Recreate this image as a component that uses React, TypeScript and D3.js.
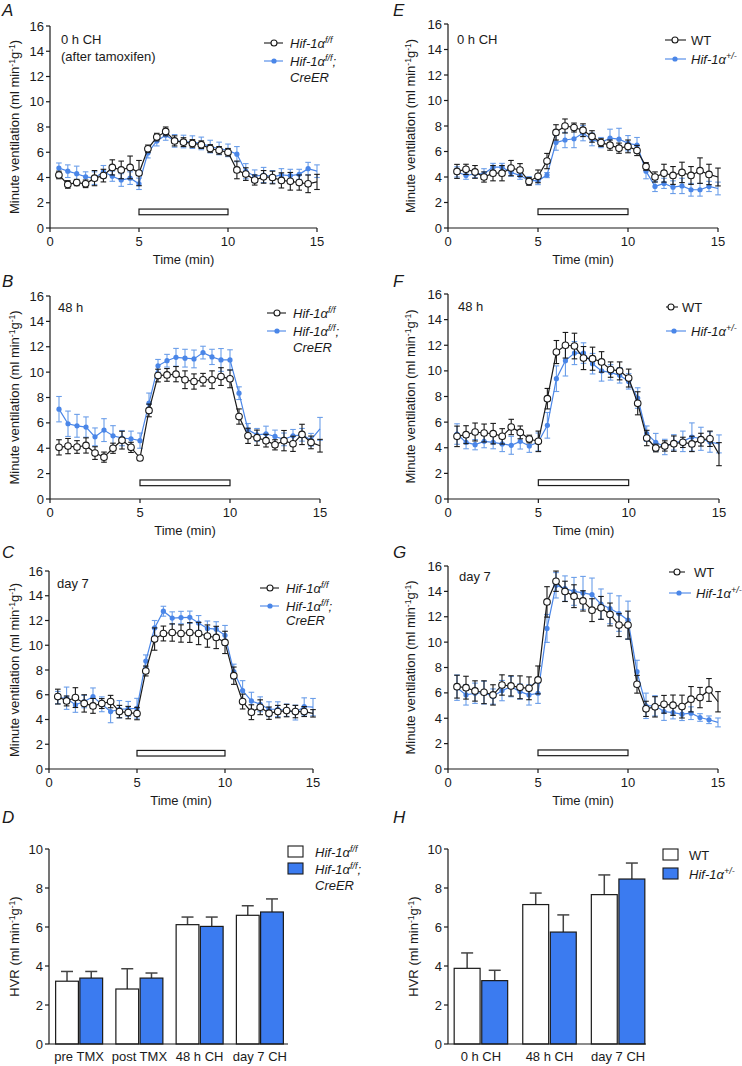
import React from "react";
import * as d3 from "d3";

// ---------- DATA ----------
const TIME = [0.5, 1, 1.5, 2, 2.5, 3, 3.5, 4, 4.5, 5, 5.5, 6, 6.5, 7, 7.5, 8, 8.5, 9, 9.5, 10, 10.5, 11, 11.5, 12, 12.5, 13, 13.5, 14, 14.5, 15];

// Panel A: 0 h CH (after tamoxifen)
const A_ff_mean = [4.2, 3.45, 3.6, 3.5, 3.95, 4.15, 4.8, 4.6, 4.8, 4.35, 6.27, 7.2, 7.65, 6.9, 6.8, 6.7, 6.6, 6.3, 6.15, 6.0, 4.6, 4.27, 3.8, 4.05, 4.0, 3.77, 3.7, 3.6, 3.5, 3.65];
const A_ff_err = [0.3, 0.3, 0.25, 0.3, 0.6, 0.5, 0.6, 0.7, 0.9, 1.0, 0.3, 0.3, 0.35, 0.4, 0.35, 0.3, 0.3, 0.3, 0.3, 0.3, 0.7, 0.5, 0.4, 0.5, 0.5, 0.6, 0.7, 0.6, 0.7, 0.6];
const A_cre_mean = [4.75, 4.5, 4.3, 4.05, 3.95, 4.45, 4.1, 3.8, 3.95, 3.5, 5.95, 6.9, 7.35, 6.9, 6.85, 6.8, 6.7, 6.45, 6.3, 6.15, 5.85, 4.5, 4.1, 4.2, 4.05, 4.2, 4.15, 4.25, 4.7, 4.5];
const A_cre_err = [0.4, 0.5, 0.6, 0.4, 0.5, 0.5, 0.4, 0.5, 0.5, 0.45, 0.4, 0.4, 0.4, 0.5, 0.5, 0.5, 0.5, 0.5, 0.5, 0.5, 0.6, 0.6, 0.5, 0.6, 0.5, 0.5, 0.5, 0.4, 0.5, 0.5];

// Panel B: 48 h
const B_ff_mean = [4.07, 4.17, 4.1, 4.22, 3.62, 3.3, 4.0, 4.64, 4.07, 3.23, 6.98, 9.73, 9.78, 9.84, 9.4, 9.26, 9.4, 9.4, 9.65, 9.47, 6.5, 4.98, 4.83, 4.6, 4.27, 4.6, 4.35, 5.09, 4.46, 4.2];
const B_ff_err = [0.6, 0.6, 0.5, 0.6, 0.5, 0.4, 0.4, 0.7, 0.4, 0.2, 0.5, 0.5, 0.5, 0.6, 0.7, 0.6, 0.5, 0.7, 0.7, 0.7, 0.6, 0.6, 0.6, 0.5, 0.4, 0.8, 0.6, 0.8, 0.5, 0.5];
const B_cre_mean = [7.08, 5.93, 5.77, 5.67, 4.9, 5.43, 4.98, 4.8, 4.75, 4.6, 7.55, 10.5, 10.9, 11.17, 11.1, 11.04, 11.54, 11.2, 10.96, 10.96, 8.34, 5.45, 5.06, 5.14, 4.93, 4.7, 4.98, 5.06, 4.67, 5.53];
const B_cre_err = [1.0, 1.0, 0.9, 0.8, 0.7, 0.9, 0.8, 0.6, 0.6, 0.6, 0.8, 0.5, 0.5, 0.7, 0.7, 0.7, 0.5, 0.6, 0.9, 0.8, 0.5, 0.5, 0.5, 0.6, 0.5, 0.5, 0.5, 0.5, 0.5, 0.9];

// Panel C: day 7
const C_ff_mean = [5.85, 5.5, 5.77, 5.3, 5.1, 5.29, 5.45, 4.64, 4.56, 4.48, 7.92, 10.5, 10.95, 11.03, 10.95, 11.03, 10.95, 10.74, 10.63, 10.23, 7.54, 5.45, 4.59, 4.99, 4.51, 4.64, 4.72, 4.64, 4.64, 4.5];
const C_ff_err = [0.6, 0.4, 0.8, 0.7, 0.6, 0.4, 0.5, 0.5, 0.5, 0.5, 0.4, 0.9, 0.6, 0.7, 0.7, 0.8, 0.9, 0.9, 0.9, 0.9, 0.7, 0.6, 0.6, 0.6, 0.5, 0.5, 0.5, 0.5, 0.4, 0.3];
const C_cre_mean = [5.77, 5.72, 5.18, 5.45, 5.85, 5.23, 4.64, 4.83, 4.86, 4.91, 8.72, 11.4, 12.75, 12.2, 12.24, 12.26, 11.8, 11.36, 11.3, 10.8, 7.87, 6.34, 5.5, 5.23, 4.83, 4.83, 4.75, 4.56, 5.05, 5.0];
const C_cre_err = [0.5, 0.9, 0.6, 0.5, 0.7, 0.6, 0.9, 0.7, 0.6, 0.8, 0.5, 0.6, 0.4, 0.5, 0.5, 0.5, 0.6, 0.6, 0.6, 0.8, 0.6, 0.8, 0.7, 0.6, 0.6, 0.6, 0.5, 0.6, 0.7, 0.7];

// Panel E: 0 h CH
const E_wt_mean = [4.44, 4.6, 4.4, 4.0, 4.3, 4.3, 4.7, 4.55, 3.65, 4.05, 5.25, 7.5, 8.0, 7.88, 7.67, 7.18, 6.7, 6.5, 6.26, 6.4, 6.08, 4.83, 4.0, 4.3, 4.12, 4.36, 4.12, 4.5, 4.2, 4.0];
const E_wt_err = [0.55, 0.4, 0.5, 0.4, 0.6, 0.6, 0.6, 0.5, 0.3, 0.5, 0.6, 0.6, 0.55, 0.35, 0.5, 0.45, 0.3, 0.4, 0.4, 0.5, 0.4, 0.3, 0.4, 0.7, 0.7, 0.8, 0.7, 1.0, 0.8, 0.7];
const E_het_mean = [4.4, 4.12, 4.25, 4.25, 4.77, 4.77, 4.36, 4.12, 3.73, 3.7, 4.15, 6.7, 6.9, 7.0, 7.44, 6.95, 6.7, 7.05, 6.97, 6.65, 6.5, 4.46, 3.26, 3.5, 3.2, 3.3, 3.0, 3.0, 3.26, 3.1];
const E_het_err = [0.4, 0.3, 0.3, 0.4, 0.3, 0.3, 0.3, 0.3, 0.3, 0.3, 0.2, 0.6, 0.6, 0.7, 0.6, 0.5, 0.4, 0.7, 0.85, 0.6, 0.6, 0.6, 0.4, 0.4, 0.5, 0.6, 0.5, 0.5, 0.4, 0.5];

// Panel F: 48 h
const F_wt_mean = [4.89, 5.02, 5.23, 5.15, 5.1, 4.89, 5.62, 5.2, 4.68, 4.5, 7.83, 11.47, 12.0, 11.94, 11.0, 10.95, 10.7, 10.1, 10.0, 9.44, 7.47, 4.76, 3.98, 4.14, 4.32, 4.42, 4.3, 4.63, 4.7, 3.5];
const F_wt_err = [0.8, 0.7, 0.7, 0.7, 0.8, 0.6, 0.6, 0.5, 0.3, 0.8, 0.8, 0.9, 1.0, 1.0, 0.9, 0.9, 0.8, 0.6, 0.7, 0.7, 0.9, 0.6, 0.3, 0.4, 0.6, 0.4, 0.6, 0.5, 0.6, 0.9];
const F_het_mean = [5.07, 4.42, 4.24, 4.5, 4.42, 4.3, 4.19, 4.5, 4.14, 4.45, 5.75, 9.39, 10.8, 11.39, 11.39, 10.56, 10.0, 9.88, 9.65, 9.18, 7.88, 5.1, 4.42, 4.06, 4.42, 4.5, 4.84, 4.7, 4.45, 4.3];
const F_het_err = [0.8, 0.5, 0.4, 0.5, 0.5, 0.6, 0.7, 0.6, 0.5, 0.7, 1.0, 1.0, 1.2, 0.9, 0.8, 0.8, 0.8, 0.6, 0.6, 0.6, 0.8, 0.6, 0.7, 0.6, 0.6, 0.8, 1.1, 0.9, 0.8, 0.7];

// Panel G: day 7
const G_wt_mean = [6.49, 6.41, 6.15, 6.05, 5.84, 6.62, 6.55, 6.44, 6.36, 7.02, 13.17, 14.8, 14.0, 13.62, 13.25, 12.52, 12.7, 12.18, 11.34, 11.34, 6.68, 4.74, 4.9, 5.1, 5.03, 4.92, 5.5, 5.63, 6.23, 5.3];
const G_wt_err = [0.9, 0.9, 0.8, 0.9, 0.8, 0.8, 0.8, 0.9, 0.9, 1.1, 1.2, 0.8, 0.8, 0.9, 0.8, 0.9, 0.9, 0.9, 0.9, 1.1, 0.7, 0.6, 0.8, 0.7, 0.8, 0.9, 1.0, 0.8, 0.9, 0.8];
const G_het_mean = [6.41, 5.84, 5.97, 6.02, 5.71, 6.18, 6.49, 6.1, 5.84, 5.97, 11.08, 14.48, 14.22, 14.0, 13.88, 13.75, 12.99, 12.65, 12.25, 11.73, 7.67, 4.98, 4.98, 4.53, 4.45, 4.32, 4.4, 4.06, 3.88, 3.67];
const G_het_err = [1.0, 0.8, 0.8, 0.9, 0.6, 0.8, 0.8, 0.6, 0.8, 0.8, 1.1, 1.0, 1.0, 1.1, 1.3, 1.3, 1.2, 1.2, 1.4, 1.5, 0.9, 1.0, 0.8, 0.7, 0.5, 0.5, 0.5, 0.3, 0.3, 0.35];

// Bar panels
const D_cats = ["pre TMX", "post TMX", "48 h CH", "day 7 CH"];
const D_ff = [3.22, 2.82, 6.12, 6.6];
const D_ff_err = [0.5, 1.04, 0.39, 0.49];
const D_cre = [3.38, 3.38, 6.03, 6.77];
const D_cre_err = [0.34, 0.26, 0.48, 0.67];

const H_cats = ["0 h CH", "48 h CH", "day 7 CH"];
const H_wt = [3.88, 7.15, 7.66];
const H_wt_err = [0.79, 0.59, 1.01];
const H_het = [3.25, 5.74, 8.46];
const H_het_err = [0.53, 0.88, 0.82];

const LINE_TICKS_Y = [0, 2, 4, 6, 8, 10, 12, 14, 16];
const LINE_TICKS_X = [0, 5, 10, 15];
const BAR_TICKS_Y = [0, 2, 4, 6, 8, 10];

// ---------- STYLE ----------
const FONT = "'Liberation Sans', Arial, Helvetica, sans-serif";
const BLACK = "#1a1a1a";
const BLUE_LINE = "#4a86e8";
const BLUE_ERR = "#6b9ee9";
const BLUE_BAR = "#3b7bf0";
const FS = 13;

type Leg = {
  kind: "ff" | "wt";
  rows: { lx0: number; lx1: number; mx: number; y: number; tx: number }[];
  creY?: number;
};

function HifText({ sup, suffix }: { sup: string; suffix?: string }) {
  return (
    <>
      <tspan fontStyle="italic">Hif-1α</tspan>
      <tspan dy={-5} fontSize={9} fontStyle="italic">{sup}</tspan>
      {suffix ? <tspan dy={5} fontStyle="italic">{suffix}</tspan> : null}
    </>
  );
}

function YLabel({ x, y, text }: { x: number; y: number; text: string }) {
  return (
    <text transform={`translate(${x},${y}) rotate(-90)`} textAnchor="middle" fontSize={FS} fill={BLACK}>
      {text} (ml min
      <tspan dy={-4} fontSize={8.5}>-1</tspan>
      <tspan dy={4}>g</tspan>
      <tspan dy={-4} fontSize={8.5}>-1</tspan>
      <tspan dy={4}>)</tspan>
    </text>
  );
}

type LineProps = {
  x0: number; x1: number; yTop: number; yBot: number;
  letter: string; letterX: number; letterY: number;
  bm: number[]; be: number[]; cm: number[]; ce: number[];
  annot: string[]; annotX: number; annotY: number;
  legend: Leg; yLabelX: number;
};

function LinePanel(p: LineProps) {
  const x = d3.scaleLinear().domain([0, 15]).range([p.x0, p.x1]);
  const y = d3.scaleLinear().domain([0, 16]).range([p.yBot, p.yTop]);
  const line = d3.line<number>().x((_, i) => x(TIME[i])).y((v) => y(v));
  const cap = 2.8;

  const series = (mean: number[], err: number[], col: string, errCol: string, open: boolean) => (
    <g>
      {mean.map((m, i) => {
        const cx = x(TIME[i]);
        const yt = y(m + err[i]);
        const yb = y(m - err[i]);
        return (
          <g key={i} stroke={errCol} strokeWidth={1.1}>
            <line x1={cx} x2={cx} y1={yt} y2={yb} />
            <line x1={cx - cap} x2={cx + cap} y1={yt} y2={yt} />
            <line x1={cx - cap} x2={cx + cap} y1={yb} y2={yb} />
          </g>
        );
      })}
      <path d={line(mean) || ""} fill="none" stroke={col} strokeWidth={1.2} />
      {mean.slice(0, mean.length - 1).map((m, i) =>
        open ? (
          <circle key={i} cx={x(TIME[i])} cy={y(m)} r={3.3} fill="#fff" stroke={col} strokeWidth={1.1} />
        ) : (
          <circle key={i} cx={x(TIME[i])} cy={y(m)} r={2.6} fill={col} />
        )
      )}
    </g>
  );

  const lg = p.legend;
  return (
    <g fontFamily={FONT}>
      <text x={p.letterX} y={p.letterY} fontSize={17} fontStyle="italic" fill={BLACK}>{p.letter}</text>
      {/* axes */}
      <line x1={p.x0} x2={p.x0} y1={p.yTop} y2={p.yBot} stroke={BLACK} strokeWidth={1.2} />
      <line x1={p.x0} x2={p.x1} y1={p.yBot} y2={p.yBot} stroke={BLACK} strokeWidth={1.2} />
      {LINE_TICKS_Y.map((t) => (
        <g key={t}>
          <line x1={p.x0 - 4} x2={p.x0} y1={y(t)} y2={y(t)} stroke={BLACK} strokeWidth={1.2} />
          <text x={p.x0 - 6} y={y(t)} dy="0.35em" textAnchor="end" fontSize={FS} fill={BLACK}>{t}</text>
        </g>
      ))}
      {LINE_TICKS_X.map((t) => (
        <g key={t}>
          <line x1={x(t)} x2={x(t)} y1={p.yBot} y2={p.yBot + 4} stroke={BLACK} strokeWidth={1.2} />
          <text x={x(t)} y={p.yBot + 9} dy="0.71em" textAnchor="middle" fontSize={FS} fill={BLACK}>{t}</text>
        </g>
      ))}
      <text x={(p.x0 + p.x1) / 2} y={p.yBot + 36} textAnchor="middle" fontSize={FS} fill={BLACK}>Time (min)</text>
      <YLabel x={p.yLabelX} y={(p.yTop + p.yBot) / 2} text="Minute ventilation" />
      {/* hypoxia bar */}
      <rect x={x(5)} y={y(1.5)} width={x(10) - x(5)} height={y(1.05) - y(1.5)} fill="#fff" stroke={BLACK} strokeWidth={1.2} />
      {series(p.cm, p.ce, BLUE_LINE, BLUE_ERR, false)}
      {series(p.bm, p.be, BLACK, BLACK, true)}
      {/* annotation */}
      {p.annot.map((a, i) => (
        <text key={i} x={p.annotX} y={p.annotY + i * 17} fontSize={FS} fill={BLACK}>{a}</text>
      ))}
      {/* legend */}
      <g>
        <line x1={lg.rows[0].lx0} x2={lg.rows[0].lx1} y1={lg.rows[0].y} y2={lg.rows[0].y} stroke={BLACK} strokeWidth={1.1} />
        <circle cx={lg.rows[0].mx} cy={lg.rows[0].y} r={3} fill="#fff" stroke={BLACK} strokeWidth={1.1} />
        <text x={lg.rows[0].tx} y={lg.rows[0].y + 4.5} fontSize={FS} fill={BLACK}>
          {lg.kind === "ff" ? <HifText sup="f/f" /> : "WT"}
        </text>
        <line x1={lg.rows[1].lx0} x2={lg.rows[1].lx1} y1={lg.rows[1].y} y2={lg.rows[1].y} stroke={BLUE_LINE} strokeWidth={1.1} />
        <circle cx={lg.rows[1].mx} cy={lg.rows[1].y} r={2.6} fill={BLUE_LINE} />
        <text x={lg.rows[1].tx} y={lg.rows[1].y + 4.5} fontSize={FS} fill={BLACK}>
          {lg.kind === "ff" ? <HifText sup="f/f" suffix=";" /> : <HifText sup="+/-" />}
        </text>
        {lg.creY !== undefined ? (
          <text x={lg.rows[1].tx} y={lg.creY} fontSize={FS} fontStyle="italic" fill={BLACK}>CreER</text>
        ) : null}
      </g>
    </g>
  );
}

type BarProps = {
  x0: number; x1: number; yTop: number; yBot: number; axisEnd: number;
  letter: string; letterX: number; letterY: number;
  cats: string[]; w: number[]; we: number[]; b: number[]; be: number[];
  pin: number; pout: number;
  yLabelX: number;
  kind: "ff" | "wt";
  boxX: number; boxW: number; boxH: number; boxY: number[]; textX: number; textY: number[]; creY?: number;
};

function BarPanel(p: BarProps) {
  const x = d3.scaleBand<string>().domain(p.cats).range([p.x0, p.x1]).paddingInner(p.pin).paddingOuter(p.pout);
  const sub = d3.scaleBand<string>().domain(["w", "b"]).range([0, x.bandwidth()]).paddingInner(0.06);
  const y = d3.scaleLinear().domain([0, 10]).range([p.yBot, p.yTop]);
  const errBar = (cx: number, v: number, e: number, k: string) => (
    <g key={k} stroke="#444" strokeWidth={1.5}>
      <line x1={cx} x2={cx} y1={y(v)} y2={y(v + e)} />
      <line x1={cx - 6} x2={cx + 6} y1={y(v + e)} y2={y(v + e)} />
    </g>
  );
  return (
    <g fontFamily={FONT}>
      <text x={p.letterX} y={p.letterY} fontSize={17} fontStyle="italic" fill={BLACK}>{p.letter}</text>
      {p.cats.map((c, i) => {
        const bx = x(c)!;
        const xw = bx + sub("w")!;
        const xb = bx + sub("b")!;
        const bw = sub.bandwidth();
        return (
          <g key={c}>
            {errBar(xw + bw / 2, p.w[i], p.we[i], "ew")}
            {errBar(xb + bw / 2, p.b[i], p.be[i], "eb")}
            <rect x={xw} y={y(p.w[i])} width={bw} height={p.yBot - y(p.w[i])} fill="#fff" stroke={BLACK} strokeWidth={1.2} />
            <rect x={xb} y={y(p.b[i])} width={bw} height={p.yBot - y(p.b[i])} fill={BLUE_BAR} stroke={BLACK} strokeWidth={1.2} />
            <text x={bx + x.bandwidth() / 2} y={p.yBot + 17} textAnchor="middle" fontSize={FS} fill={BLACK}>{c}</text>
          </g>
        );
      })}
      <line x1={p.x0} x2={p.x0} y1={p.yTop} y2={p.yBot} stroke={BLACK} strokeWidth={1.2} />
      <line x1={p.x0} x2={p.axisEnd} y1={p.yBot} y2={p.yBot} stroke={BLACK} strokeWidth={1.2} />
      {BAR_TICKS_Y.map((t) => (
        <g key={t}>
          <line x1={p.x0 - 4} x2={p.x0} y1={y(t)} y2={y(t)} stroke={BLACK} strokeWidth={1.2} />
          <text x={p.x0 - 6} y={y(t)} dy="0.35em" textAnchor="end" fontSize={FS} fill={BLACK}>{t}</text>
        </g>
      ))}
      <YLabel x={p.yLabelX} y={(p.yTop + p.yBot) / 2} text="HVR" />
      {/* legend */}
      <rect x={p.boxX} y={p.boxY[0]} width={p.boxW} height={p.boxH} fill="#fff" stroke={BLACK} strokeWidth={1.1} />
      <rect x={p.boxX} y={p.boxY[1]} width={p.boxW} height={p.boxH} fill={BLUE_BAR} stroke={BLACK} strokeWidth={1.1} />
      <text x={p.textX} y={p.textY[0]} fontSize={FS} fill={BLACK}>
        {p.kind === "ff" ? <HifText sup="f/f" /> : "WT"}
      </text>
      <text x={p.textX} y={p.textY[1]} fontSize={FS} fill={BLACK}>
        {p.kind === "ff" ? <HifText sup="f/f" suffix=";" /> : <HifText sup="+/-" />}
      </text>
      {p.creY !== undefined ? (
        <text x={p.textX} y={p.creY} fontSize={FS} fontStyle="italic" fill={BLACK}>CreER</text>
      ) : null}
    </g>
  );
}

const ffLeg = (yTop: number, xEnd: number, creOff: number): Leg => ({
  kind: "ff",
  rows: [
    { lx0: xEnd - 53, lx1: xEnd - 34, mx: xEnd - 43, y: yTop + 17 },
    { lx0: xEnd - 53, lx1: xEnd - 34, mx: xEnd - 43, y: yTop + 35 },
  ].map((r) => ({ ...r, tx: xEnd - 27 })),
  creY: yTop + creOff,
});

export default function App() {
  return (
    <svg width={742} height={1066} style={{ position: "absolute", left: 0, top: 0, background: "#fff" }}>
      <rect x={0} y={0} width={742} height={1066} fill="#fff" />
      <LinePanel x0={50} x1={317} yTop={26} yBot={228} letter="A" letterX={2} letterY={16}
        bm={A_ff_mean} be={A_ff_err} cm={A_cre_mean} ce={A_cre_err}
        annot={["0 h CH", "(after tamoxifen)"]} annotX={61} annotY={44}
        legend={ffLeg(26, 317, 56)} yLabelX={19} />
      <LinePanel x0={50} x1={320} yTop={296} yBot={499} letter="B" letterX={2} letterY={287}
        bm={B_ff_mean} be={B_ff_err} cm={B_cre_mean} ce={B_cre_err}
        annot={["48 h"]} annotX={58} annotY={312}
        legend={ffLeg(296, 320, 56)} yLabelX={19} />
      <LinePanel x0={49} x1={313} yTop={571} yBot={769} letter="C" letterX={2} letterY={558}
        bm={C_ff_mean} be={C_ff_err} cm={C_cre_mean} ce={C_cre_err}
        annot={["day 7"]} annotX={57} annotY={588}
        legend={ffLeg(571, 313, 54)} yLabelX={19} />
      <LinePanel x0={448} x1={718} yTop={24} yBot={228} letter="E" letterX={393} letterY={16}
        bm={E_wt_mean} be={E_wt_err} cm={E_het_mean} ce={E_het_err}
        annot={["0 h CH"]} annotX={457} annotY={44}
        legend={{ kind: "wt", rows: [
          { lx0: 665, lx1: 686, mx: 675, y: 40, tx: 691 },
          { lx0: 665, lx1: 686, mx: 675, y: 59, tx: 691 },
        ] }} yLabelX={415} />
      <LinePanel x0={448} x1={719} yTop={294} yBot={499} letter="F" letterX={393} letterY={287}
        bm={F_wt_mean} be={F_wt_err} cm={F_het_mean} ce={F_het_err}
        annot={["48 h"]} annotX={458} annotY={311}
        legend={{ kind: "wt", rows: [
          { lx0: 666, lx1: 678, mx: 671, y: 307, tx: 682 },
          { lx0: 666, lx1: 686, mx: 674, y: 331, tx: 691 },
        ] }} yLabelX={415} />
      <LinePanel x0={448} x1={718} yTop={566} yBot={769} letter="G" letterX={393} letterY={558}
        bm={G_wt_mean} be={G_wt_err} cm={G_het_mean} ce={G_het_err}
        annot={["day 7"]} annotX={459} annotY={581}
        legend={{ kind: "wt", rows: [
          { lx0: 669, lx1: 685, mx: 677, y: 572, tx: 694 },
          { lx0: 669, lx1: 691, mx: 679, y: 593, tx: 696 },
        ] }} yLabelX={415} />
      <BarPanel x0={49} x1={290} axisEnd={288} yTop={849} yBot={1044} letter="D" letterX={2} letterY={823}
        cats={D_cats} w={D_ff} we={D_ff_err} b={D_cre} be={D_cre_err} pin={0.22} pout={0.11}
        yLabelX={19} kind="ff" boxX={288} boxW={15} boxH={11} boxY={[846, 863]} textX={315}
        textY={[857, 874]} creY={890} />
      <BarPanel x0={448} x1={651} axisEnd={646} yTop={849} yBot={1044} letter="H" letterX={393} letterY={823}
        cats={H_cats} w={H_wt} we={H_wt_err} b={H_het} be={H_het_err} pin={0.22} pout={0.09}
        yLabelX={418} kind="wt" boxX={663} boxW={15} boxH={11} boxY={[849, 868]} textX={689}
        textY={[860, 879]} />
    </svg>
  );
}
